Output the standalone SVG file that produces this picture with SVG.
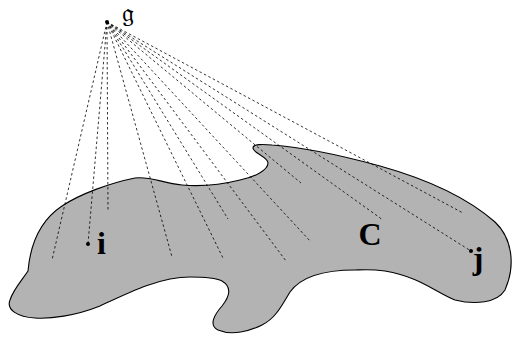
<svg xmlns="http://www.w3.org/2000/svg" width="514" height="337" viewBox="0 0 514 337">
<style>
.body{fill:#b3b3b3;stroke:#000;stroke-width:1.1}
.ray{stroke:#000;stroke-width:0.8;stroke-dasharray:2.5,2.5;fill:none}
.lbl{font-family:"Liberation Serif","DejaVu Serif",serif;font-weight:bold;font-size:32px;fill:#000;text-anchor:middle}
.frak{font-family:"DejaVu Serif","DejaVu Sans","Noto Sans",serif;font-size:27px;fill:#000;text-anchor:middle}
</style>
<g id="C">
<path class="body" d="M 28,271 C 30,248 38,222 62,206 C 80,194 110,183 135,178 C 150,176 162,183 182,185 C 205,187 228,183 240,180 C 255,177 268,170 268,163 C 268,157 253,153 253,148 C 253,144 262,144 272,145 C 300,147 340,155 380,166 C 430,180 470,200 495,222 C 512,238 516,265 505,290 C 497,303 475,305 455,300 C 435,292 420,277 385,271 C 370,269 360,270 355,270 C 320,270 300,278 290,292 C 282,305 276,318 262,325 C 250,331 232,336 218,330 C 208,325 215,314 222,306 C 230,296 232,287 222,281 C 214,277 200,277 190,277 C 160,277 130,292 100,306 C 75,316 50,319 35,318 C 18,317 6,310 10,300 C 13,290 22,280 28,271 Z"/>
<text class="lbl" x="370" y="245">C</text>
</g>
<g id="connectors">
<line class="ray" x1="107" y1="22" x2="52" y2="260"/>
<line class="ray" x1="107" y1="22" x2="88" y2="244"/>
<line class="ray" x1="107" y1="22" x2="108" y2="212"/>
<line class="ray" x1="107" y1="22" x2="172" y2="257"/>
<line class="ray" x1="107" y1="22" x2="223" y2="258"/>
<line class="ray" x1="107" y1="22" x2="228" y2="219"/>
<line class="ray" x1="107" y1="22" x2="286" y2="261"/>
<line class="ray" x1="107" y1="22" x2="311" y2="242"/>
<line class="ray" x1="107" y1="22" x2="301" y2="183"/>
<line class="ray" x1="107" y1="22" x2="383" y2="220"/>
<line class="ray" x1="107" y1="22" x2="463" y2="213"/>
<line class="ray" x1="107" y1="22" x2="471" y2="251"/>
</g>
<g id="g">
<circle cx="107" cy="22" r="2"/>
<text class="frak" x="128" y="22">𝔤</text>
</g>
<g id="i">
<circle cx="88" cy="244" r="2"/>
<text class="lbl" x="101.5" y="254">i</text>
</g>
<g id="j">
<circle cx="471" cy="251" r="2"/>
<text class="lbl" x="478" y="269">j</text>
</g>
</svg>
